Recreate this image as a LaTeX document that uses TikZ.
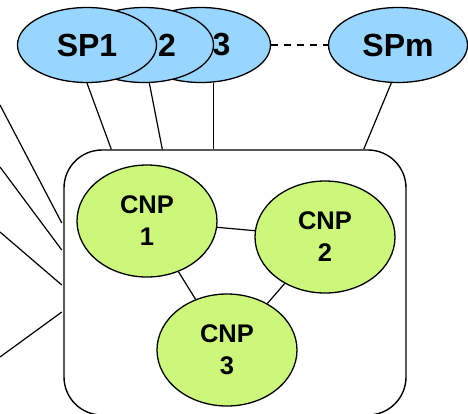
\documentclass[tikz,border=0pt]{standalone}
\usepackage{fontspec}
\setmainfont{Liberation Sans}
\usetikzlibrary{calc}
\usetikzlibrary{shapes.geometric}

\definecolor{spblue}{RGB}{153,214,255}
\definecolor{cnpgreen}{RGB}{204,247,122}

\begin{document}
\begin{tikzpicture}[x=1pt,y=-1pt,
  sptext/.style={font=\fontsize{32}{38}\selectfont\bfseries, inner sep=0pt},
  spnode/.style={ellipse, draw, line width=1.3pt, fill=spblue, minimum width=139pt, minimum height=75pt, inner sep=0pt, sptext},
  cnpnode/.style={ellipse, draw, line width=1.3pt, fill=cnpgreen, minimum width=140pt, minimum height=112pt, inner sep=0pt, align=center, font=\fontsize{25.5}{32}\selectfont\bfseries},
  link/.style={line width=1.2pt}]
\useasboundingbox (0,0) rectangle (468,413);

% the container of the CNPs
\node[draw, line width=1.4pt, rounded corners=38pt, minimum width=342pt, minimum height=265pt] (cloud) at (235,282.5) {};

% service providers, back to front
\node[spnode] (spm) at (398,45) {SPm};
\node[spnode, label={[sptext,xshift=20.5pt]center:3}] (sp3) at (201,45) {};
\node[spnode, label={[sptext,xshift=23pt]center:2}] (sp2) at (144,45) {};
\node[spnode] (sp1) at (87,45) {SP1};

\draw[link, dash pattern=on 7pt off 6pt] (sp3.east) -- (spm.west);

\coordinate (t1) at ($(cloud.north west)+(48,0)$);
\coordinate (t2) at ($(cloud.north west)+(99,0)$);
\coordinate (tm) at ($(cloud.north east)+(-43,0)$);
\draw[link] (sp1.south) -- (t1);
\draw[link] (sp2.-82) -- (t2);
\draw[link] (sp3.-72) -- (sp3.-72 |- cloud.north);
\draw[link] (spm.-100) -- (tm);

% lines coming in from the left
\foreach \ya/\yb [count=\i] in {105/-59.5, 167/-32.5, 232/2.5, 357/29.5}{
  \coordinate (in\i) at (0,\ya);
  \draw[link] (in\i) -- ($(cloud.west)+(-1.5,\yb)$);
}

% core network providers
\node[cnpnode] (cnp1) at (147,221) {CNP\\1};
\node[cnpnode] (cnp2) at (325,237) {CNP\\2};
\node[cnpnode] (cnp3) at (227,350) {CNP\\3};

\draw[link] (cnp1) -- (cnp2);
\draw[link] (cnp1) -- (cnp3);
\draw[link] (cnp2) -- (cnp3);

\end{tikzpicture}
\end{document}
